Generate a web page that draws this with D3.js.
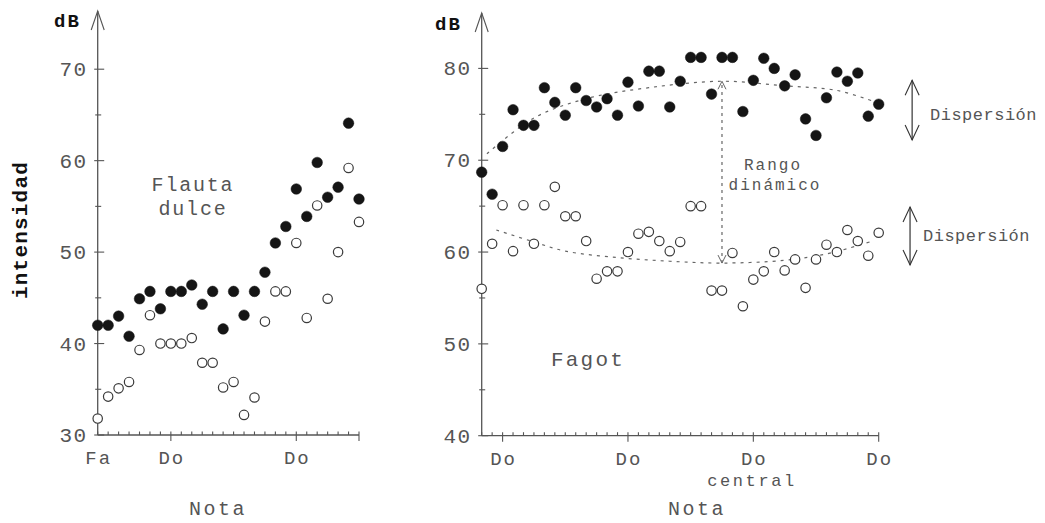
<!DOCTYPE html>
<html>
<head>
<meta charset="utf-8">
<script src="https://cdn.jsdelivr.net/npm/d3@7"></script>
<style>
  html, body { margin: 0; padding: 0; background: #fff; }
  svg { display: block; }
  text { font-family: "Liberation Mono", "Courier New", monospace; }
</style>
</head>
<body>
<svg id="chart" width="1045" height="523"></svg>
<script>
// ---------------- DATA ----------------
// Flauta dulce: semitone index from Fa (0) ; Do at 7 and 19
const flautaSemis = [0,1,2,3,4,5,6,7,8,9,10,11,12,13,14,15,16,17,18,19,20,21,22,23,24,25];
const flautaFuerte = [42.0,42.0,43.0,40.8,44.9,45.7,43.8,45.7,45.7,46.4,44.3,45.7,41.6,45.7,43.1,45.7,47.8,51.0,52.8,56.9,53.9,59.8,56.0,57.1,64.1,55.8];
const flautaSuave  = [31.8,34.2,35.1,35.8,39.3,43.1,40.0,40.0,40.0,40.6,37.9,37.9,35.2,35.8,32.2,34.1,42.4,45.7,45.7,51.0,42.8,55.1,44.9,50.0,59.2,53.3];
const flautaXLabels = [[0,"Fa"],[7,"Do"],[19,"Do"]];
const flautaMajorX = [7,19,25];
const flautaYTicks = [30,40,50,60,70];
const flautaYMinor = [35,45,55,65];

// Fagot: semitone index relative to the first Do (0); Do at 0,12,24,36
const fagotSemis = [-2,-1,0,1,2,3,4,5,6,7,8,9,10,11,12,13,14,15,16,17,18,19,20,21,22,23,24,25,26,27,28,29,30,31,32,33,34,35,36];
const fagotFuerte = [68.7,66.3,71.5,75.5,73.8,73.8,77.9,76.3,74.9,77.9,76.5,75.8,76.7,74.9,78.5,75.9,79.7,79.7,75.8,78.6,81.2,81.2,77.2,81.2,81.2,75.3,78.7,81.1,80.0,78.1,79.3,74.5,72.7,76.8,79.6,78.6,79.5,74.8,76.1];
const fagotSuave  = [56.0,60.9,65.1,60.1,65.1,60.9,65.1,67.1,63.9,63.9,61.2,57.1,57.9,57.9,60.0,62.0,62.2,61.2,60.1,61.1,65.0,65.0,55.8,55.8,59.9,54.1,57.0,57.9,60.0,58.0,59.2,56.1,59.2,60.8,60.0,62.4,61.2,59.6,62.1];
const fagotXLabels = [[0,"Do"],[12,"Do"],[24,"Do"],[36,"Do"]];
const fagotMajorX = [0,12,24,36];
const fagotYTicks = [40,50,60,70,80];
const fagotYMinor = [45,55,65,75];
// dotted trend curves [semitone, dB]
const trendAlto = [[-1.5,70.7],[3,74.6],[8,76.7],[14,77.9],[21,78.6],[27,78.1],[32,77.6],[35.8,76.3]];
const trendBajo = [[-0.6,62.4],[3,61.1],[6,60.1],[11,59.4],[16,59.0],[21,58.8],[27,59.1],[31,59.8],[34,60.7],[35.4,61.2]];
const rangoDinamico = {semi: 21, from: 58.8, to: 78.6};
const dispersiones = [{semi: 39.2, from: 72.2, to: 78.7}, {semi: 39.0, from: 58.6, to: 64.9}];

// ---------------- DRAW ----------------
const svg = d3.select("#chart");
const grey = "#555";
const axisCol = "#555";

const xL = d3.scaleLinear().domain([0, 25]).range([97.7, 359]);
const yL = d3.scaleLinear().domain([30, 70]).range([435, 69.2]);
const xR = d3.scaleLinear().domain([-2, 36]).range([481.7, 878.7]);
const yR = d3.scaleLinear().domain([40, 80]).range([435.7, 68.4]);

function chevron(g, x, y, dir, w, h, col, sw) {
  // dir = -1 pointing up, +1 pointing down
  g.append("path")
    .attr("d", `M${x - w},${y - dir * h} L${x},${y} L${x + w},${y - dir * h}`)
    .attr("fill", "none").attr("stroke", col).attr("stroke-width", sw);
}

function panel(x, y, xDomainTicks, majors, yTicks, yMinor, xLabels, topY) {
  const g = svg.append("g");
  const x0 = x.range()[0], x1 = x.range()[1], y0 = y.range()[0];
  g.append("line").attr("x1", x0).attr("x2", x1).attr("y1", y0).attr("y2", y0)
    .attr("stroke", axisCol).attr("stroke-width", 1.3);
  g.append("line").attr("x1", x0).attr("x2", x0).attr("y1", y0).attr("y2", topY)
    .attr("stroke", axisCol).attr("stroke-width", 1.3);
  chevron(g, x0, topY, -1, 6.5, 19, axisCol, 1.1);
  xDomainTicks.forEach(t => {
    const isMajor = majors.includes(t);
    g.append("line").attr("x1", x(t)).attr("x2", x(t))
      .attr("y1", y0 - 3.5).attr("y2", isMajor ? y0 + 6 : y0)
      .attr("stroke", axisCol).attr("stroke-width", 1.1);
  });
  yTicks.forEach(t => {
    g.append("line").attr("x1", x0 - 3.5).attr("x2", x0 + 6.5).attr("y1", y(t)).attr("y2", y(t))
      .attr("stroke", axisCol).attr("stroke-width", 1.1);
    g.append("text").attr("x", x0 - 10).attr("y", y(t) + 7)
      .attr("text-anchor", "end").attr("fill", grey)
      .style("font-size", "21px").style("letter-spacing", "1.5px")
      .text(t);
  });
  yMinor.forEach(t => {
    g.append("line").attr("x1", x0 - 2.5).attr("x2", x0 + 3.5).attr("y1", y(t)).attr("y2", y(t))
      .attr("stroke", axisCol).attr("stroke-width", 1.1);
  });
  xLabels.forEach(([t, s]) => {
    g.append("text").attr("x", x(t) + 1).attr("y", y0 + 29)
      .attr("text-anchor", "middle").attr("fill", grey)
      .style("font-size", "19px").style("letter-spacing", "2px")
      .text(s);
  });
  return g;
}

function dots(g, x, y, semis, vals, filled) {
  g.selectAll(null).data(semis.map((s, i) => [s, vals[i]])).enter()
    .append("circle")
    .attr("cx", d => x(d[0])).attr("cy", d => y(d[1]))
    .attr("r", filled ? 5.3 : 4.7)
    .attr("fill", filled ? "#151515" : "#fff")
    .attr("stroke", filled ? "#151515" : "#3a3a3a")
    .attr("stroke-width", filled ? 0.5 : 1.2);
}

// ---- left panel ----
const gL = panel(xL, yL, d3.range(0, 26), flautaMajorX, flautaYTicks, flautaYMinor, flautaXLabels, 11);
dots(gL, xL, yL, flautaSemis, flautaSuave, false);
dots(gL, xL, yL, flautaSemis, flautaFuerte, true);

// ---- right panel ----
const gR = panel(xR, yR, d3.range(-2, 37), fagotMajorX, fagotYTicks, fagotYMinor, fagotXLabels, 13);

const line = d3.line().x(d => xR(d[0])).y(d => yR(d[1])).curve(d3.curveCatmullRom);
[trendAlto, trendBajo].forEach(tr => {
  gR.append("path").attr("d", line(tr)).attr("fill", "none")
    .attr("stroke", "#666").attr("stroke-width", 1.2).attr("stroke-dasharray", "3,5");
});
gR.append("line").attr("x1", xR(rangoDinamico.semi)).attr("x2", xR(rangoDinamico.semi))
  .attr("y1", yR(rangoDinamico.from)).attr("y2", yR(rangoDinamico.to))
  .attr("stroke", "#666").attr("stroke-width", 1.2).attr("stroke-dasharray", "3,4");
chevron(gR, xR(rangoDinamico.semi), yR(rangoDinamico.to), -1, 4, 8, "#666", 1);
chevron(gR, xR(rangoDinamico.semi), yR(rangoDinamico.from), 1, 4, 8, "#666", 1);

dots(gR, xR, yR, fagotSemis, fagotSuave, false);
dots(gR, xR, yR, fagotSemis, fagotFuerte, true);

dispersiones.forEach(d => {
  const xx = xR(d.semi);
  gR.append("line").attr("x1", xx).attr("x2", xx).attr("y1", yR(d.from)).attr("y2", yR(d.to))
    .attr("stroke", "#333").attr("stroke-width", 1.2);
  chevron(gR, xx, yR(d.to), -1, 7, 15, "#333", 1.1);
  chevron(gR, xx, yR(d.from), 1, 7, 15, "#333", 1.1);
});

// ---------------- TEXT ----------------
function txt(x, y, s, size, opts = {}) {
  const t = svg.append("text").attr("x", x).attr("y", y)
    .attr("text-anchor", opts.anchor || "start")
    .attr("fill", opts.fill || grey)
    .style("font-size", size + "px")
    .style("letter-spacing", (opts.ls || 0) + "px")
    .style("font-weight", opts.bold ? "bold" : "normal")
    .text(s);
  if (opts.rotate) t.attr("transform", `rotate(-90,${x},${y})`);
  return t;
}
txt(54, 27, "dB", 19, {bold: true, fill: "#111", ls: 2});
txt(435, 30, "dB", 19, {bold: true, fill: "#111", ls: 2});
txt(27, 230, "intensidad", 21, {bold: true, fill: "#111", ls: 1.2, anchor: "middle", rotate: true});
txt(193, 191, "Flauta", 20, {anchor: "middle", ls: 1.8});
txt(193, 215, "dulce", 20, {anchor: "middle", ls: 1.8});
txt(551, 366, "Fagot", 21, {ls: 2.2});
txt(773, 170, "Rango", 16, {anchor: "middle", ls: 2});
txt(775, 190, "dinámico", 16, {anchor: "middle", ls: 2});
txt(930, 120, "Dispersión", 17, {ls: 0.5});
txt(923, 241, "Dispersión", 17, {ls: 0.5});
txt(752, 486, "central", 17, {anchor: "middle", ls: 2.6});
txt(218, 515, "Nota", 20, {anchor: "middle", ls: 2.5});
txt(697, 515, "Nota", 20, {anchor: "middle", ls: 2.5});
</script>
</body>
</html>
